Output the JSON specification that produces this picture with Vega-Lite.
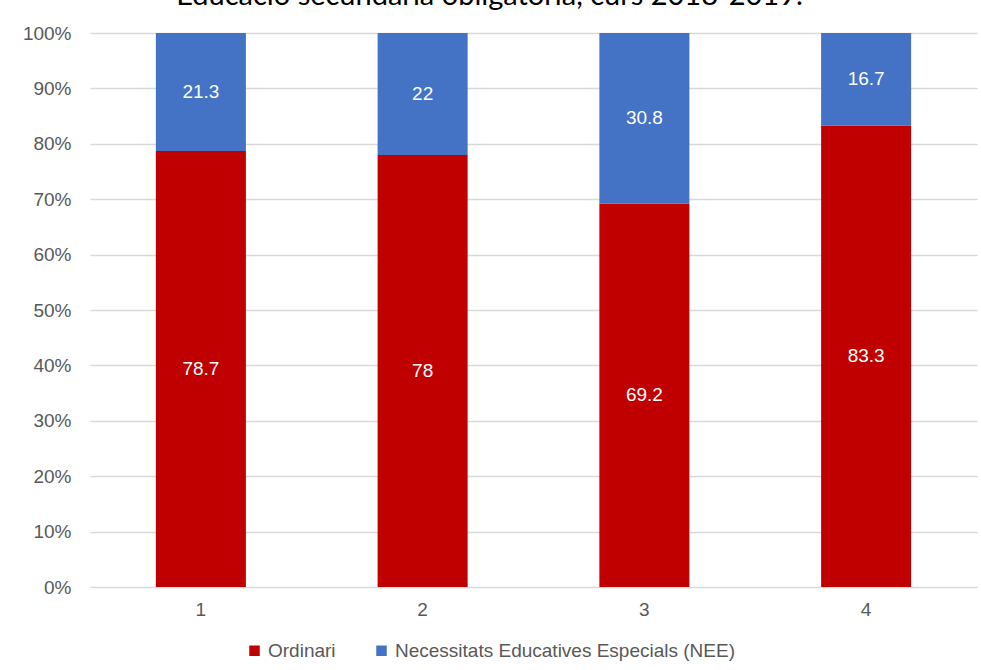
{
  "$schema": "https://vega.github.io/schema/vega-lite/v6.json",
  "width": 887,
  "height": 554,
  "autosize": {"type": "none"},
  "padding": {"left": 90, "top": 33, "right": 4, "bottom": 83},
  "background": "white",
  "title": {
    "text": "Educació secundària obligatòria, curs 2018-2019.",
    "font": "Lato",
    "fontSize": 29,
    "fontWeight": "normal",
    "color": "#000000",
    "anchor": "middle",
    "baseline": "alphabetic",
    "dx": -44,
    "dy": 14,
    "offset": 4
  },
  "data": {
    "values": [
      {"curs": "1", "tipus": "Ordinari", "ordre": 1, "valor": 78.7},
      {"curs": "1", "tipus": "Necessitats Educatives Especials (NEE)", "ordre": 2, "valor": 21.3},
      {"curs": "2", "tipus": "Ordinari", "ordre": 1, "valor": 78},
      {"curs": "2", "tipus": "Necessitats Educatives Especials (NEE)", "ordre": 2, "valor": 22},
      {"curs": "3", "tipus": "Ordinari", "ordre": 1, "valor": 69.2},
      {"curs": "3", "tipus": "Necessitats Educatives Especials (NEE)", "ordre": 2, "valor": 30.8},
      {"curs": "4", "tipus": "Ordinari", "ordre": 1, "valor": 83.3},
      {"curs": "4", "tipus": "Necessitats Educatives Especials (NEE)", "ordre": 2, "valor": 16.7}
    ]
  },
  "transform": [
    {"stack": "valor", "groupby": ["curs"], "sort": [{"field": "ordre", "order": "ascending"}], "as": ["y0", "y1"], "offset": "normalize"},
    {"calculate": "(datum.y0 + datum.y1) / 2", "as": "ymid"}
  ],
  "encoding": {
    "x": {
      "field": "curs",
      "type": "nominal",
      "title": null,
      "scale": {"paddingInner": 0.594, "paddingOuter": 0.297},
      "axis": {
        "labelAngle": 0,
        "labelFont": "Liberation Sans",
        "labelFontSize": 19,
        "labelColor": "#595959",
        "labelPadding": 13,
        "ticks": false,
        "domain": false,
        "grid": false
      }
    }
  },
  "layer": [
    {
      "mark": {"type": "bar"},
      "encoding": {
        "y": {
          "field": "y0",
          "type": "quantitative",
          "title": null,
          "scale": {"domain": [0, 1], "nice": false},
          "axis": {
            "format": ".0%",
            "values": [0, 0.1, 0.2, 0.3, 0.4, 0.5, 0.6, 0.7, 0.8, 0.9, 1],
            "labelOverlap": false,
            "labelFont": "Liberation Sans",
            "labelFontSize": 19,
            "labelColor": "#595959",
            "labelPadding": 19,
            "ticks": false,
            "domain": false,
            "grid": true,
            "gridColor": "#d9d9d9",
            "gridWidth": 1.3
          }
        },
        "y2": {"field": "y1"},
        "color": {
          "field": "tipus",
          "type": "nominal",
          "title": null,
          "scale": {
            "domain": ["Ordinari", "Necessitats Educatives Especials (NEE)"],
            "range": ["#C00000", "#4472C4"]
          },
          "legend": {
            "orient": "none",
            "legendX": 155,
            "legendY": 608,
            "direction": "horizontal",
            "symbolType": "square",
            "symbolSize": 110,
            "symbolStrokeWidth": 0,
            "labelFont": "Liberation Sans",
            "labelFontSize": 19,
            "labelColor": "#595959",
            "labelOffset": 4,
            "labelLimit": 0,
            "columnPadding": 36
          }
        }
      }
    },
    {
      "mark": {"type": "text", "color": "white", "font": "Liberation Sans", "fontSize": 19, "baseline": "middle"},
      "encoding": {
        "y": {"field": "ymid", "type": "quantitative"},
        "text": {"field": "valor", "type": "quantitative"}
      }
    }
  ],
  "config": {
    "view": {"stroke": null}
  }
}
